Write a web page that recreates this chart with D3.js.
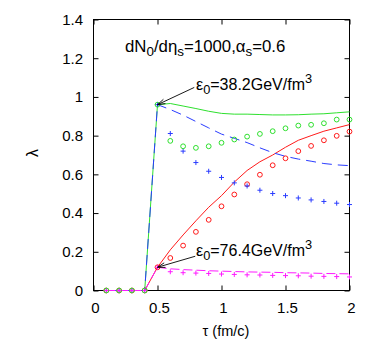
<!DOCTYPE html>
<html><head><meta charset="utf-8">
<script src="https://cdn.jsdelivr.net/npm/d3@7"></script>
<style>
body{margin:0;background:#fff;}
text{font-family:"Liberation Sans",Arial,Helvetica,sans-serif;}
</style></head>
<body>
<svg id="c" width="368" height="343"></svg>
<script>
const tau = [0.1,0.2,0.3,0.4,0.5,0.6,0.7,0.8,0.9,1.0,1.1,1.2,1.3,1.4,1.5,1.6,1.7,1.8,1.9,2.0];
const greenLine   = [0,0,0,0,0.96,0.966,0.953,0.94,0.926,0.915,0.911,0.911,0.909,0.907,0.907,0.908,0.911,0.913,0.918,0.923];
const blueLine    = [0,0,0,0,0.96,0.935,0.906,0.873,0.84,0.808,0.786,0.764,0.737,0.712,0.693,0.679,0.668,0.656,0.649,0.645];
const redLine     = [0,0,0,0,0.12,0.21,0.287,0.36,0.43,0.49,0.56,0.62,0.665,0.70,0.74,0.776,0.80,0.823,0.84,0.857];
const magentaLine = [0,0,0,0,0.12,0.112,0.108,0.105,0.102,0.1,0.098,0.096,0.095,0.094,0.092,0.091,0.09,0.088,0.087,0.086];
const greenCircles = [0,0,0,0,0.96,0.773,0.745,0.737,0.745,0.763,0.78,0.795,0.809,0.823,0.838,0.852,0.856,0.864,0.883,0.883];
const bluePlus     = [0,0,0,0,0.96,0.811,0.72,0.661,0.616,0.584,0.556,0.54,0.518,0.501,0.49,0.478,0.468,0.46,0.451,0.444];
const redCircles   = [0,0,0,0,0.12,0.168,0.232,0.303,0.365,0.435,0.496,0.549,0.598,0.647,0.683,0.72,0.747,0.776,0.799,0.821];
const magentaPlus  = [0,0,0,0,0.12,0.097,0.092,0.09,0.088,0.085,0.083,0.081,0.08,0.078,0.077,0.076,0.074,0.073,0.072,0.07];
const xTicks = [0,0.5,1,1.5,2];
const yTicks = [0,0.2,0.4,0.6,0.8,1,1.2,1.4];

const GREEN="#2ee02e", BLUE="#2a3cff", RED="#ff1a1a", MAG="#ff1aff";
const svg = d3.select("#c");
const L=93.5, R=349.5, T=19.5, B=290.5;
const x = d3.scaleLinear().domain([0,2]).range([L,R]);
const y = d3.scaleLinear().domain([0,1.4]).range([B,T]);
const fs = 15;

// axes
const fmt = d=>String(d);
svg.append("g").attr("transform",`translate(0,${B})`)
  .call(d3.axisBottom(x).tickValues(xTicks).tickSize(-5).tickPadding(11.5).tickFormat(fmt))
  .call(g=>{g.select(".domain").remove();g.selectAll("text").attr("font-size",fs).attr("dx",1.5).attr("fill","#000");});
svg.append("g").attr("transform",`translate(0,${T})`)
  .call(d3.axisTop(x).tickValues(xTicks).tickSize(-5).tickFormat(""))
  .call(g=>g.select(".domain").remove());
svg.append("g").attr("transform",`translate(${L},0)`)
  .call(d3.axisLeft(y).tickValues(yTicks).tickSize(-5).tickPadding(10.5).tickFormat(fmt))
  .call(g=>{g.select(".domain").remove();g.selectAll("text").attr("font-size",fs).attr("fill","#000");});
svg.append("g").attr("transform",`translate(${R},0)`)
  .call(d3.axisRight(y).tickValues(yTicks).tickSize(-5).tickFormat(""))
  .call(g=>g.select(".domain").remove());
svg.selectAll(".tick line").attr("stroke","#000");
svg.append("rect").attr("x",L).attr("y",T).attr("width",R-L).attr("height",B-T)
  .attr("fill","none").attr("stroke","#000").attr("stroke-width",1);

// lines
const line = d3.line().x(d=>x(d[0])).y(d=>y(d[1]));
function drawLine(vals,color,dash){
  svg.append("path").datum(tau.map((t,i)=>[t,vals[i]]))
    .attr("d",line).attr("fill","none").attr("stroke",color).attr("stroke-width",1)
    .attr("stroke-dasharray",dash||null);
}
drawLine(redLine,RED);
drawLine(greenLine,GREEN);
drawLine(blueLine,BLUE,"10,6");
drawLine(magentaLine,MAG,"9,4");

// markers
function circles(vals,color){
  svg.append("g").selectAll("circle").data(tau.map((t,i)=>[t,vals[i]])).join("circle")
    .attr("cx",d=>x(d[0])).attr("cy",d=>y(d[1])).attr("r",2.4)
    .attr("fill","none").attr("stroke",color).attr("stroke-width",1);
}
function pluses(vals,color){
  svg.append("g").selectAll("path").data(tau.map((t,i)=>[t,vals[i]])).join("path")
    .attr("d",d=>{const cx=x(d[0]),cy=y(d[1]),s=2.5;return `M${cx-s},${cy}H${cx+s}M${cx},${cy-s}V${cy+s}`;})
    .attr("fill","none").attr("stroke",color).attr("stroke-width",1);
}
circles(redCircles,RED);
pluses(bluePlus,BLUE);
pluses(magentaPlus,MAG);
circles(greenCircles,GREEN);

// arrows
function arrow(t0,l0,t1,l1){
  const x0=x(t0),y0=y(l0),x1=x(t1),y1=y(l1);
  const a=Math.atan2(y1-y0,x1-x0), h=8, w=0.3;
  svg.append("path")
    .attr("d",`M${x0},${y0}L${x1},${y1}M${x1-h*Math.cos(a-w)},${y1-h*Math.sin(a-w)}L${x1},${y1}L${x1-h*Math.cos(a+w)},${y1-h*Math.sin(a+w)}`)
    .attr("fill","none").attr("stroke","#000").attr("stroke-width",0.9);
}
arrow(0.787,1.049,0.5,0.96);
arrow(0.795,0.177,0.5,0.12);

// texts
function rich(xp,yp,parts,size){
  const t=svg.append("text").attr("x",xp).attr("y",yp).attr("font-size",size).attr("fill","#000");
  let shift=0;
  parts.forEach(p=>{
    const s=t.append("tspan").text(p.t);
    let target = p.sub?4:(p.sup?-7:0);
    s.attr("dy",target-shift); shift=target;
    if(p.sub||p.sup) s.attr("font-size",size*0.8);
  });
}
rich(125,52,[{t:"dN"},{t:"0",sub:1},{t:"/dη"},{t:"s",sub:1},{t:"=1000,α"},{t:"s",sub:1},{t:"=0.6"}],16.8);
rich(196,89.5,[{t:"ε"},{t:"0",sub:1},{t:"=38.2GeV/fm"},{t:"3",sup:1}],16);
rich(196,256,[{t:"ε"},{t:"0",sub:1},{t:"=76.4GeV/fm"},{t:"3",sup:1}],16);

svg.append("text").attr("transform","translate(38,153) rotate(-90)").attr("text-anchor","middle")
  .attr("font-size",16).text("λ");
svg.append("text").attr("x",226).attr("y",336).attr("text-anchor","middle")
  .attr("font-size",14.5).text("τ (fm/c)");
</script>
</body></html>
